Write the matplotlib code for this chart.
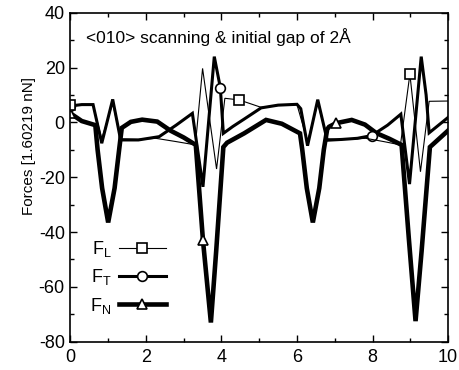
import matplotlib
matplotlib.use("Agg")
import matplotlib.pyplot as plt
from matplotlib.ticker import MultipleLocator

plt.rcParams["font.family"] = ["Liberation Sans", "DejaVu Sans"]
plt.rcParams["axes.unicode_minus"] = False

# scan distance
FL_X = [0, 0.6, 0.83, 1.12, 1.33, 1.8, 2.26, 2.8, 3.31, 3.50, 3.87, 4.09, 4.47,
        5.05, 5.5, 6.0, 6.28, 6.55, 6.8, 7.3, 7.82, 8.3, 8.74, 8.99, 9.27, 9.5, 10]
FL_Y = [6.5, 6.3, -6, 7, -6, -6.2, -5.8, -7, -8.2, 19.7, -17, 8.8, 8.2,
        5.5, 6.2, 6.5, -7, 7, -6, -6.2, -5.8, -7, -8.2, 17.6, -18, 7.7, 7.8]

FT_X = [0, 0.3, 0.6, 0.83, 1.12, 1.33, 1.8, 2.35, 2.8, 3.23, 3.51, 3.81, 3.97, 4.05,
        4.3, 4.6, 5.05, 5.5, 6.0, 6.1, 6.28, 6.55, 6.8, 7.2, 7.6, 7.98, 8.4, 8.75,
        8.98, 9.29, 9.42, 9.5, 10]
FT_Y = [6, 6.5, 6.5, -7.6, 8.4, -6.4, -6.4, -5.2, -1, 3.3, -23.5, 24, 12.7, -4,
        -1.5, 1.2, 5.3, 6.3, 6.6, 5, -8.5, 8.3, -6.5, -6.2, -5.8, -4.8, -1, 3.0,
        -22.5, 24, 10, -3.8, 1.8]

FN_X = [0, 0.3, 0.66, 0.72, 0.84, 1.0, 1.17, 1.29, 1.36, 1.6, 1.9, 2.3, 2.65, 3.0,
        3.32, 3.51, 3.72, 3.86, 4.05, 4.15, 4.6, 5.18, 5.6, 6.08, 6.14, 6.26, 6.42,
        6.59, 6.71, 6.8, 6.85, 7.03, 7.45, 7.8, 8.1, 8.45, 8.77, 8.96, 9.14, 9.3,
        9.52, 10]
FN_Y = [3.3, 0.5, -1, -10, -24, -36.5, -24, -10, -2, 0.2, 1.0, 0.3, -3.0, -5.5,
        -8.2, -43, -73, -47, -9, -7.4, -4, 0.9, -0.5, -4, -10, -24, -36.5,
        -24, -10, -2.5, -1.6, -0.3, 0.9, -0.8, -3.9, -6, -8.2, -42, -72.5, -47,
        -9, -3]

# where the open symbols sit on each curve
FL_MARK_X = [0, 4.47, 8.99]
FT_MARK_X = [0, 3.97, 7.98]
FN_MARK_X = [0, 3.51, 7.03]

SERIES = [
    ("$\\mathregular{F_N}$", FN_X, FN_Y, FN_MARK_X, "^", 3.3),
    ("$\\mathregular{F_T}$", FT_X, FT_Y, FT_MARK_X, "o", 2.2),
    ("$\\mathregular{F_L}$", FL_X, FL_Y, FL_MARK_X, "s", 0.8),
]

fig = plt.figure(figsize=(4.59, 3.70), dpi=100)
ax = fig.add_axes([0.1534, 0.0765, 0.8227, 0.889])

handles = {}
for label, xs, ys, marks, marker, lw in SERIES:
    every = [xs.index(m) for m in marks]
    line, = ax.plot(xs, ys, color="black", lw=lw, marker=marker, markevery=every,
                    markersize=7, markerfacecolor="white", markeredgecolor="black",
                    markeredgewidth=1.2, solid_joinstyle="miter")
    handles[label] = line

ax.set_xlim(0, 10)
ax.set_ylim(-80, 40)
ax.xaxis.set_major_locator(MultipleLocator(2))
ax.xaxis.set_minor_locator(MultipleLocator(1))
ax.yaxis.set_major_locator(MultipleLocator(20))
ax.yaxis.set_minor_locator(MultipleLocator(10))
ax.tick_params(which="both", direction="in", top=True, right=True, labelsize=13)
ax.tick_params(which="major", length=5, width=1)
ax.tick_params(which="minor", length=3, width=1)
ax.tick_params(axis="x", pad=5)
ax.tick_params(axis="y", pad=4)
for spine in ax.spines.values():
    spine.set_linewidth(1.2)

ax.set_ylabel("Forces [1.60219 nN]", fontsize=11)
ax.yaxis.set_label_coords(-0.09, 0.595)

ax.text(0.04, 0.925, "<010> scanning & initial gap of 2Å", transform=ax.transAxes,
        fontsize=12.5, va="center", ha="left")

order = ["$\\mathregular{F_L}$", "$\\mathregular{F_T}$", "$\\mathregular{F_N}$"]
ax.legend([handles[k] for k in order], order, loc="lower left",
          bbox_to_anchor=(0.01, 0.03), frameon=False, markerfirst=False,
          numpoints=1, handlelength=2.6, handletextpad=0.4, labelspacing=0.45,
          fontsize=13)

fig.savefig("out.png", dpi=100, facecolor="white")
